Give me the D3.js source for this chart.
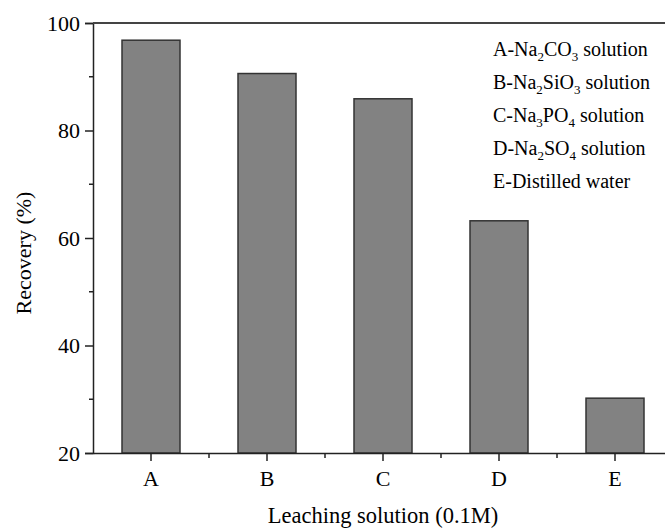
<!DOCTYPE html>
<html>
<head>
<meta charset="utf-8">
<script src="https://cdn.jsdelivr.net/npm/d3@7"></script>
<style>
  body { margin: 0; background: #fff; }
  text { font-family: "Liberation Serif", "Times New Roman", serif; fill: #000; }
</style>
</head>
<body>
<svg id="chart" width="665" height="529"></svg>
<script>
// data
var categories = ["A", "B", "C", "D", "E"];
var recovery = [96.8, 90.6, 85.9, 63.2, 30.2];
var yTicks = [20, 40, 60, 80, 100];
var yMinor = [30, 50, 70, 90];
var legendItems = [
  ["A-Na", "2", "CO", "3", " solution"],
  ["B-Na", "2", "SiO", "3", " solution"],
  ["C-Na", "3", "PO", "4", " solution"],
  ["D-Na", "2", "SO", "4", " solution"],
  ["E-Distilled water"]
];

(function() {
  var svg = d3.select("#chart");
  var pl = 93, pr = 673, pt = 23, pb = 453;

  var x = d3.scaleBand().domain(categories).range([pl, pr]);
  var y = d3.scaleLinear().domain([20, 100]).range([pb, pt]);

  // bars
  svg.selectAll("rect.bar")
    .data(categories)
    .enter().append("rect")
    .attr("class", "bar")
    .attr("x", function(d) { return x(d) + x.bandwidth() / 4; })
    .attr("width", x.bandwidth() / 2)
    .attr("y", function(d, i) { return y(recovery[i]); })
    .attr("height", function(d, i) { return pb - y(recovery[i]); })
    .attr("fill", "#828282")
    .attr("stroke", "#333")
    .attr("stroke-width", 1.5);

  // y axis
  var yAxis = svg.append("g")
    .attr("transform", "translate(" + pl + ",0)")
    .call(d3.axisLeft(y).tickValues(yTicks).tickSize(8).tickPadding(5).tickFormat(d3.format("d")));
  yAxis.select(".domain").attr("stroke", "#222").attr("stroke-width", 1.5);
  yAxis.selectAll(".tick line").attr("stroke", "#222").attr("stroke-width", 1.5);
  yAxis.selectAll("text").style("font-size", "22px").attr("dy", "0.34em");

  svg.append("g").selectAll("line")
    .data(yMinor).enter().append("line")
    .attr("x1", pl - 4).attr("x2", pl)
    .attr("y1", function(d) { return y(d); })
    .attr("y2", function(d) { return y(d); })
    .attr("stroke", "#222").attr("stroke-width", 1.5);

  // x axis
  var xAxis = svg.append("g")
    .attr("transform", "translate(0," + pb + ")")
    .call(d3.axisBottom(x).tickSize(8).tickSizeOuter(0).tickPadding(9));
  xAxis.select(".domain").attr("stroke", "#222").attr("stroke-width", 1.5);
  xAxis.selectAll(".tick line").attr("stroke", "#222").attr("stroke-width", 1.5);
  xAxis.selectAll("text").style("font-size", "22px");

  // minor ticks at band edges
  svg.append("g").selectAll("line")
    .data(categories.slice(1)).enter().append("line")
    .attr("x1", function(d) { return x(d); })
    .attr("x2", function(d) { return x(d); })
    .attr("y1", pb).attr("y2", pb + 5)
    .attr("stroke", "#222").attr("stroke-width", 1.5);

  // top frame line
  svg.append("line")
    .attr("x1", pl).attr("x2", pr)
    .attr("y1", pt).attr("y2", pt)
    .attr("stroke", "#444").attr("stroke-width", 2);

  // axis titles
  svg.append("text")
    .attr("x", (pl + pr) / 2).attr("y", 523)
    .attr("text-anchor", "middle")
    .style("font-size", "22.5px")
    .text("Leaching solution (0.1M)");

  svg.append("text")
    .attr("transform", "translate(31,253) rotate(-90)")
    .attr("text-anchor", "middle")
    .style("font-size", "22px")
    .text("Recovery (%)");

  // legend
  var leg = svg.append("g");
  legendItems.forEach(function(parts, i) {
    var t = leg.append("text")
      .attr("x", 493).attr("y", 56 + i * 33)
      .style("font-size", "20px");
    parts.forEach(function(p, j) {
      var span = t.append("tspan").text(p);
      if (j % 2 === 1) {
        span.style("font-size", "13px").attr("dy", 5);
      } else if (j > 0) {
        span.attr("dy", -5);
      }
    });
  });
})();
</script>
</body>
</html>
